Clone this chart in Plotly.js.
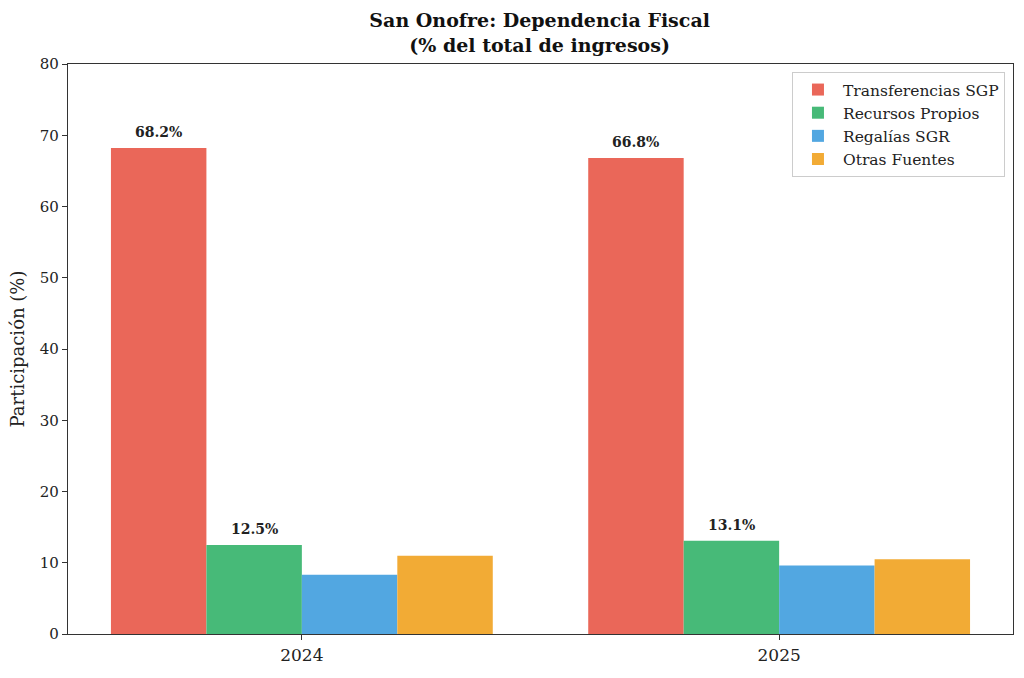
<!DOCTYPE html>
<html>
<head>
<meta charset="utf-8">
<script src="https://cdn.plot.ly/plotly-3.0.1.min.js"></script>
<style>
  html, body { margin: 0; padding: 0; background: #fff; }
  #chart { width: 1024px; height: 678px; }
</style>
</head>
<body>
<div id="chart"></div>
<script>
var years = ['2024', '2025'];
var seriesNames = ['Transferencias SGP', 'Recursos Propios', 'Regalías SGR', 'Otras Fuentes'];
var sgp = [68.2, 66.8];
var propios = [12.5, 13.1];
var regalias = [8.3, 9.6];
var otras = [11.0, 10.5];
var colors = ['#EA6759', '#47BA78', '#52A7E1', '#F2AB35'];
var labelled = [true, true, false, false];

var serif = '"DejaVu Serif", "Liberation Serif", serif';

var values = [sgp, propios, regalias, otras];
var data = values.map(function (v, i) {
  return {
    type: 'bar',
    name: seriesNames[i],
    x: years,
    y: v,
    marker: { color: colors[i], line: { width: 0 } },
    hoverinfo: 'name+y'
  };
});

// value labels above the first two series, centred on each bar of the group
var barWidth = 0.2;
var annotations = [];
values.forEach(function (v, i) {
  if (!labelled[i]) return;
  v.forEach(function (d, j) {
    annotations.push({
      x: j + (i - 1.5) * barWidth,
      y: d,
      xref: 'x',
      yref: 'y',
      text: '<b>' + d.toFixed(1) + '%</b>',
      showarrow: false,
      yanchor: 'bottom',
      yshift: 6,
      font: { family: serif, size: 14, color: '#222' }
    });
  });
});

var layout = {
  width: 1024,
  height: 678,
  margin: { l: 68, r: 11, t: 64, b: 44 },
  paper_bgcolor: '#fff',
  plot_bgcolor: '#fff',
  font: { family: serif, color: '#222' },
  barmode: 'group',
  bargap: 0.2,
  bargroupgap: 0,
  title: {
    text: '<b>San Onofre: Dependencia Fiscal<br>(% del total de ingresos)</b>',
    font: { family: serif, size: 19, color: '#111' },
    x: 0.527,
    xanchor: 'center',
    y: 0.96,
    yanchor: 'middle'
  },
  xaxis: {
    type: 'category',
    range: [-0.49, 1.49],
    showline: true,
    linecolor: '#333',
    linewidth: 1.2,
    mirror: true,
    ticks: 'outside',
    ticklen: 5,
    tickcolor: '#333',
    tickfont: { family: serif, size: 17, color: '#222' },
    showgrid: false,
    zeroline: false
  },
  yaxis: {
    range: [0, 80],
    dtick: 10,
    showline: true,
    linecolor: '#333',
    linewidth: 1.2,
    mirror: true,
    ticks: 'outside',
    ticklen: 5,
    tickcolor: '#333',
    tickfont: { family: serif, size: 15, color: '#222' },
    showgrid: false,
    zeroline: false,
    title: { text: 'Participación (%)', font: { family: serif, size: 18, color: '#222' }, standoff: 10 }
  },
  legend: {
    x: 0.9915,
    y: 0.986,
    xanchor: 'right',
    yanchor: 'top',
    bgcolor: 'rgba(255,255,255,0.9)',
    bordercolor: '#ccc',
    borderwidth: 1,
    font: { family: serif, size: 15.5, color: '#222' },
    tracegroupgap: 6,
    itemwidth: 40
  },
  annotations: annotations,
  showlegend: true
};

Plotly.newPlot('chart', data, layout, { displayModeBar: false, staticPlot: true });
</script>
</body>
</html>
